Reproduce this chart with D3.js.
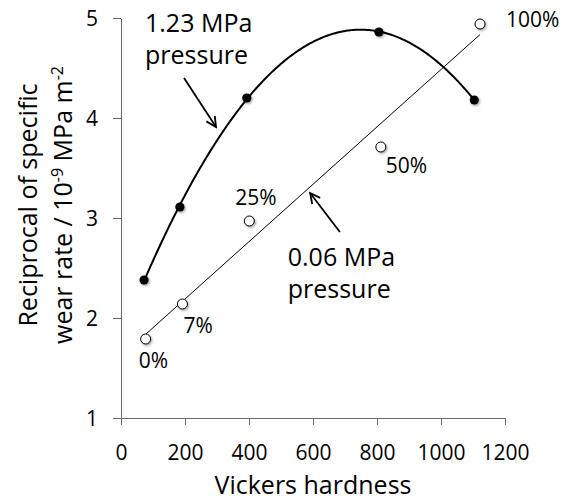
<!DOCTYPE html>
<html>
<head>
<meta charset="utf-8">
<script src="https://cdn.jsdelivr.net/npm/d3@7"></script>
<style>
  html, body { margin: 0; padding: 0; background: #fff; }
  svg { display: block; font-family: "Open Sans", "Noto Sans", sans-serif; }
</style>
</head>
<body>
<svg id="chart" width="568" height="501"></svg>
<script>
// Reciprocal of specific wear rate against Vickers hardness, two contact pressures
const hardnessHigh = [72, 184, 393, 806, 1104];     // 1.23 MPa series
const rateHigh     = [2.38, 3.11, 4.20, 4.86, 4.18];
const hardnessLow  = [77, 192, 401, 812, 1122];     // 0.06 MPa series
const rateLow      = [1.79, 2.14, 2.97, 3.71, 4.94];
const contentLabels = ["0%", "7%", "25%", "50%", "100%"];
const xTicks = [0, 200, 400, 600, 800, 1000, 1200];
const yTicks = [1, 2, 3, 4, 5];

const svg = d3.select("#chart");
const x = d3.scaleLinear().domain([0, 1200]).range([121, 505]);
const y = d3.scaleLinear().domain([1, 5]).range([418, 18]);

// soft shadow under the markers
const defs = svg.append("defs");
const f = defs.append("filter").attr("id", "shadow")
  .attr("x", "-50%").attr("y", "-50%").attr("width", "200%").attr("height", "200%");
f.append("feDropShadow").attr("dx", 1.2).attr("dy", 1.4)
  .attr("stdDeviation", 1.1).attr("flood-color", "#000").attr("flood-opacity", 0.35);

// open arrowhead
defs.append("marker").attr("id", "arrow")
  .attr("markerUnits", "userSpaceOnUse")
  .attr("viewBox", "-12 -7 14 14").attr("refX", 0).attr("refY", 0)
  .attr("markerWidth", 14).attr("markerHeight", 14).attr("orient", "auto")
  .append("path").attr("d", "M-10,-5 L0,0 L-10,5")
  .attr("fill", "none").attr("stroke", "#000").attr("stroke-width", 1.8);

// axes
const axisColor = "#6a6a6a";
const gx = svg.append("g").attr("transform", `translate(0,${y(1)})`)
  .call(d3.axisBottom(x).tickValues(xTicks).tickSize(7).tickSizeOuter(0).tickFormat(d3.format("d")));
gx.selectAll("text").attr("y", 42).attr("dy", null)
  .attr("font-size", 21).attr("fill", "#000");

const gy = svg.append("g").attr("transform", `translate(${x(0)},0)`)
  .call(d3.axisLeft(y).tickValues(yTicks).tickSize(8).tickSizeOuter(0).tickFormat(d3.format("d")));
gy.selectAll("text").attr("x", -23).attr("dy", "0.36em")
  .attr("font-size", 21).attr("fill", "#000");

[gx, gy].forEach(g => {
  g.attr("font-family", null);
  g.select(".domain").attr("stroke", axisColor).attr("shape-rendering", "crispEdges");
  g.selectAll(".tick line").attr("stroke", axisColor).attr("shape-rendering", "crispEdges");
});

// axis titles
svg.append("text").attr("x", 313).attr("y", 494).attr("text-anchor", "middle")
  .attr("font-size", 25).text("Vickers hardness");

const yTitle = svg.append("text").attr("transform", "translate(0,205) rotate(-90)")
  .attr("text-anchor", "middle").attr("font-size", 25);
yTitle.append("tspan").attr("x", 0).attr("y", 37).text("Reciprocal of specific");
const l2 = yTitle.append("tspan").attr("x", 0).attr("y", 72);
l2.append("tspan").text("wear rate / 10");
l2.append("tspan").attr("dy", -9).attr("font-size", 16).text("-9");
l2.append("tspan").attr("dy", 9).text(" MPa m");
l2.append("tspan").attr("dy", -9).attr("font-size", 16).text("-2");

// least-squares polynomial fit (normal equations, Gaussian elimination)
function polyFit(xs, ys, order) {
  const n = order + 1;
  const A = Array.from({length: n}, () => new Array(n + 1).fill(0));
  xs.forEach((xv, k) => {
    for (let i = 0; i < n; i++) {
      for (let j = 0; j < n; j++) A[i][j] += Math.pow(xv, i + j);
      A[i][n] += ys[k] * Math.pow(xv, i);
    }
  });
  for (let c = 0; c < n; c++) {
    let p = c;
    for (let r = c + 1; r < n; r++) if (Math.abs(A[r][c]) > Math.abs(A[p][c])) p = r;
    [A[c], A[p]] = [A[p], A[c]];
    for (let r = 0; r < n; r++) {
      if (r === c) continue;
      const m = A[r][c] / A[c][c];
      for (let k = c; k <= n; k++) A[r][k] -= m * A[c][k];
    }
  }
  const coef = A.map((row, i) => row[n] / row[i]);
  return xv => coef.reduce((s, cf, i) => s + cf * Math.pow(xv, i), 0);
}

// cubic trend for the 1.23 MPa series
const cubic = polyFit(hardnessHigh, rateHigh, 3);
const hx = d3.range(hardnessHigh[0], hardnessHigh[4], 4).concat([hardnessHigh[4]]);
svg.append("path")
  .attr("d", d3.line().x(d => x(d)).y(d => y(cubic(d)))(hx))
  .attr("fill", "none").attr("stroke", "#000").attr("stroke-width", 2);

// linear trend for the 0.06 MPa series
const lin = polyFit(hardnessLow, rateLow, 1);
const lx = [hardnessLow[0], hardnessLow[hardnessLow.length - 1]];
svg.append("path")
  .attr("d", d3.line().x(d => x(d)).y(d => y(lin(d)))(lx))
  .attr("fill", "none").attr("stroke", "#000").attr("stroke-width", 1);

// markers
svg.append("g").selectAll("circle").data(hardnessHigh).join("circle")
  .attr("cx", d => x(d)).attr("cy", (d, i) => y(rateHigh[i])).attr("r", 4.6)
  .attr("fill", "#000").attr("filter", "url(#shadow)");
svg.append("g").selectAll("circle").data(hardnessLow).join("circle")
  .attr("cx", d => x(d)).attr("cy", (d, i) => y(rateLow[i])).attr("r", 5)
  .attr("fill", "#fff").attr("stroke", "#000").attr("stroke-width", 1)
  .attr("filter", "url(#shadow)");

// content labels beside the 0.06 MPa points
const labelOffsets = [[-7, 29], [1, 29], [-14, -16], [5, 26], [26, 3]];
svg.append("g").selectAll("text").data(contentLabels).join("text")
  .attr("x", (d, i) => x(hardnessLow[i]) + labelOffsets[i][0])
  .attr("y", (d, i) => y(rateLow[i]) + labelOffsets[i][1])
  .attr("font-size", 21).text(d => d);

// pressure annotations with arrows
function note(xv, yv, lines) {
  const t = svg.append("text").attr("font-size", 25);
  lines.forEach((s, i) => t.append("tspan").attr("x", x(xv)).attr("y", y(yv) + i * 32).text(s));
}
note(75, 4.86, ["1.23 MPa", "pressure"]);
note(521, 2.52, ["0.06 MPa", "pressure"]);

function arrow(x1, y1, x2, y2) {
  svg.append("line")
    .attr("x1", x(x1)).attr("y1", y(y1)).attr("x2", x(x2)).attr("y2", y(y2))
    .attr("stroke", "#000").attr("stroke-width", 1.8).attr("marker-end", "url(#arrow)");
}
arrow(197, 4.40, 297, 3.91);
arrow(684, 2.86, 591, 3.25);
</script>
</body>
</html>
